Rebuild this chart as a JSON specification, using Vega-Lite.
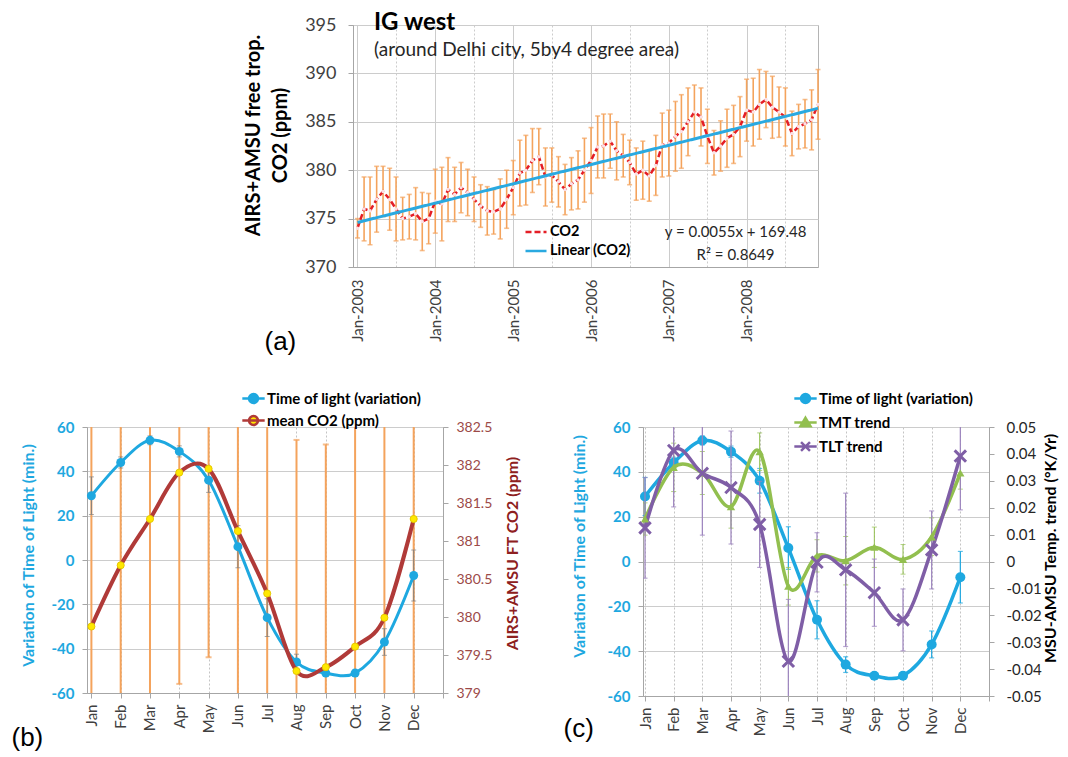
{
  "$schema": "https://vega.github.io/schema/vega-lite/v6.json",
  "background": "white",
  "padding": {"left": 10, "top": 10, "right": 5, "bottom": 2},
  "config": {
    "font": "Lato",
    "view": {"stroke": "#b4b4b4"},
    "axis": {"domainColor": "#a6a6a6", "tickColor": "#a6a6a6", "gridColor": "#cccccc", "labelFont": "Lato", "titleFont": "Lato", "labelColor": "#404040", "titleColor": "#000000"},
    "legend": {"labelFont": "Lato", "labelFontWeight": "bold", "labelColor": "#000000", "padding": 0}
  },
  "spacing": 30,
  "resolve": {"scale": {"color": "independent", "strokeDash": "independent"}, "legend": {"color": "independent", "strokeDash": "independent"}},
  "vconcat": [
    {
      "bounds": "flush",
      "spacing": 246,
      "resolve": {"scale": {"color": "independent", "strokeDash": "independent"}, "legend": {"color": "independent", "strokeDash": "independent"}},
      "hconcat": [
        {"width": 20, "height": 10, "view": {"stroke": null}, "data": {"values": []}, "mark": "point"},
        {
          "width": 465,
          "height": 242,
          "title": {"text": "IG west", "subtitle": "(around Delhi city, 5by4 degree area)", "anchor": "start", "frame": "group", "offset": -44, "dx": 21, "font": "Lato", "fontSize": 24, "fontWeight": "bold", "color": "#000000", "subtitleFont": "Lato", "subtitleFontSize": 19, "subtitleColor": "#262626", "subtitlePadding": 6.5},
          "data": {"values": [
            {"date": "2003/01/01", "co2": 374.0, "err": 1.0}, {"date": "2003/02/01", "co2": 376.0, "err": 3.3}, {"date": "2003/03/01", "co2": 375.8, "err": 3.5}, {"date": "2003/04/01", "co2": 377.0, "err": 3.4}, {"date": "2003/05/01", "co2": 377.8, "err": 2.6}, {"date": "2003/06/01", "co2": 377.0, "err": 3.2}, {"date": "2003/07/01", "co2": 376.0, "err": 3.3}, {"date": "2003/08/01", "co2": 375.0, "err": 2.2}, {"date": "2003/09/01", "co2": 375.2, "err": 2.3}, {"date": "2003/10/01", "co2": 375.5, "err": 2.7}, {"date": "2003/11/01", "co2": 374.7, "err": 3.0}, {"date": "2003/12/01", "co2": 375.0, "err": 2.6},
            {"date": "2004/01/01", "co2": 376.8, "err": 3.3}, {"date": "2004/02/01", "co2": 376.5, "err": 3.8}, {"date": "2004/03/01", "co2": 378.0, "err": 3.3}, {"date": "2004/04/01", "co2": 377.5, "err": 2.8}, {"date": "2004/05/01", "co2": 378.2, "err": 2.6}, {"date": "2004/06/01", "co2": 377.7, "err": 2.4}, {"date": "2004/07/01", "co2": 377.0, "err": 2.3}, {"date": "2004/08/01", "co2": 376.3, "err": 2.2}, {"date": "2004/09/01", "co2": 375.8, "err": 2.5}, {"date": "2004/10/01", "co2": 375.7, "err": 2.3}, {"date": "2004/11/01", "co2": 376.0, "err": 3.1}, {"date": "2004/12/01", "co2": 377.0, "err": 3.0},
            {"date": "2005/01/01", "co2": 378.2, "err": 2.8}, {"date": "2005/02/01", "co2": 379.7, "err": 3.4}, {"date": "2005/03/01", "co2": 380.0, "err": 3.6}, {"date": "2005/04/01", "co2": 381.0, "err": 3.3}, {"date": "2005/05/01", "co2": 381.4, "err": 2.9}, {"date": "2005/06/01", "co2": 379.3, "err": 3.0}, {"date": "2005/07/01", "co2": 379.5, "err": 2.8}, {"date": "2005/08/01", "co2": 378.8, "err": 2.6}, {"date": "2005/09/01", "co2": 378.0, "err": 2.6}, {"date": "2005/10/01", "co2": 378.6, "err": 2.7}, {"date": "2005/11/01", "co2": 379.0, "err": 3.0}, {"date": "2005/12/01", "co2": 380.0, "err": 3.3},
            {"date": "2006/01/01", "co2": 381.0, "err": 3.4}, {"date": "2006/02/01", "co2": 382.4, "err": 3.2}, {"date": "2006/03/01", "co2": 382.5, "err": 3.3}, {"date": "2006/04/01", "co2": 383.0, "err": 2.8}, {"date": "2006/05/01", "co2": 382.0, "err": 3.0}, {"date": "2006/06/01", "co2": 381.5, "err": 2.2}, {"date": "2006/07/01", "co2": 380.8, "err": 2.3}, {"date": "2006/08/01", "co2": 379.6, "err": 2.7}, {"date": "2006/09/01", "co2": 380.0, "err": 3.0}, {"date": "2006/10/01", "co2": 379.4, "err": 2.6}, {"date": "2006/11/01", "co2": 380.5, "err": 3.1}, {"date": "2006/12/01", "co2": 382.6, "err": 3.3},
            {"date": "2007/01/01", "co2": 382.8, "err": 3.4}, {"date": "2007/02/01", "co2": 383.5, "err": 3.6}, {"date": "2007/03/01", "co2": 384.0, "err": 3.8}, {"date": "2007/04/01", "co2": 385.0, "err": 3.5}, {"date": "2007/05/01", "co2": 386.0, "err": 2.8}, {"date": "2007/06/01", "co2": 385.5, "err": 3.0}, {"date": "2007/07/01", "co2": 383.5, "err": 2.8}, {"date": "2007/08/01", "co2": 381.8, "err": 2.3}, {"date": "2007/09/01", "co2": 382.5, "err": 2.6}, {"date": "2007/10/01", "co2": 383.3, "err": 3.0}, {"date": "2007/11/01", "co2": 383.7, "err": 3.0}, {"date": "2007/12/01", "co2": 384.5, "err": 3.1},
            {"date": "2008/01/01", "co2": 386.2, "err": 3.2}, {"date": "2008/02/01", "co2": 386.0, "err": 3.5}, {"date": "2008/03/01", "co2": 386.8, "err": 3.6}, {"date": "2008/04/01", "co2": 387.3, "err": 2.9}, {"date": "2008/05/01", "co2": 386.5, "err": 3.2}, {"date": "2008/06/01", "co2": 386.0, "err": 2.6}, {"date": "2008/07/01", "co2": 385.5, "err": 3.0}, {"date": "2008/08/01", "co2": 383.8, "err": 2.3}, {"date": "2008/09/01", "co2": 384.5, "err": 2.3}, {"date": "2008/10/01", "co2": 384.8, "err": 2.5}, {"date": "2008/11/01", "co2": 385.2, "err": 3.1}, {"date": "2008/12/01", "co2": 386.8, "err": 3.6}
          ], "format": {"parse": {"date": "date"}}},
          "layer": [
            {"mark": {"type": "errorbar", "color": "#f4a35c", "thickness": 1.6, "ticks": {"size": 5}},
             "encoding": {
               "x": {"field": "date", "type": "temporal",
                 "scale": {"domain": [{"year": 2002, "month": 12, "date": 11}, {"year": 2008, "month": 12, "date": 1}], "nice": false},
                 "axis": {
                   "values": [{"year": 2003, "month": 1, "date": 1}, {"year": 2003, "month": 7, "date": 1}, {"year": 2004, "month": 1, "date": 1}, {"year": 2004, "month": 7, "date": 1}, {"year": 2005, "month": 1, "date": 1}, {"year": 2005, "month": 7, "date": 1}, {"year": 2006, "month": 1, "date": 1}, {"year": 2006, "month": 7, "date": 1}, {"year": 2007, "month": 1, "date": 1}, {"year": 2007, "month": 7, "date": 1}, {"year": 2008, "month": 1, "date": 1}, {"year": 2008, "month": 7, "date": 1}],
                   "labelExpr": "month(datum.value) == 0 ? timeFormat(datum.value, '%b-%Y') : ''",
                   "labelAngle": 270, "labelFontSize": 15, "labelPadding": 12, "ticks": false,
                   "grid": true, "gridDash": {"condition": {"test": "month(datum.value) == 0", "value": []}, "value": [2, 2]},
                   "title": "(a)", "titleFont": "Liberation Sans", "titleFontSize": 26, "titleFontWeight": "normal", "titleX": -89, "titleY": 74, "titleAlign": "left", "titleBaseline": "middle"
                 }
               },
               "y": {"field": "co2", "type": "quantitative",
                 "scale": {"domain": [370, 395], "nice": false, "zero": false},
                 "axis": {"values": [370, 375, 380, 385, 390, 395], "labelFontSize": 18, "tickSize": 5, "labelPadding": 12, "grid": true,
                   "title": ["AIRS+AMSU free trop.", "CO2 (ppm)"], "titleFontSize": 20, "titleFontWeight": "bold", "titleLineHeight": 27, "titleAngle": 270, "titleX": -100, "titleY": 110, "titleAlign": "center", "titleBaseline": "middle"}
               },
               "yError": {"field": "err"}
             }},
            {"mark": {"type": "line", "strokeWidth": 2.5},
             "encoding": {
               "x": {"field": "date", "type": "temporal"},
               "y": {"field": "co2", "type": "quantitative"},
               "color": {"datum": "CO2", "scale": {"domain": ["CO2", "Linear (CO2)"], "range": ["#e41e26", "#2aa9e0"]},
                 "legend": {"orient": "none", "legendX": 171, "legendY": 195, "title": null, "labelFontSize": 14.5, "symbolType": "stroke", "symbolSize": 441, "symbolStrokeWidth": 2.5, "rowPadding": 0, "labelOffset": 2}},
               "strokeDash": {"datum": "CO2", "scale": {"domain": ["CO2", "Linear (CO2)"], "range": [[6, 3], [1, 0]]}, "legend": null}
             }},
            {"mark": {"type": "point", "filled": true, "size": 12, "color": "#fbe0e4", "opacity": 1},
             "encoding": {"x": {"field": "date", "type": "temporal"}, "y": {"field": "co2", "type": "quantitative"}}},
            {"transform": [{"regression": "co2", "on": "date"}],
             "mark": {"type": "line", "strokeWidth": 3},
             "encoding": {"x": {"field": "date", "type": "temporal"}, "y": {"field": "co2", "type": "quantitative"}, "color": {"datum": "Linear (CO2)"}, "strokeDash": {"datum": "Linear (CO2)"}}},
            {"data": {"values": [{"t": "y = 0.0055x + 169.48"}]},
             "mark": {"type": "text", "fontSize": 15, "align": "center", "baseline": "middle", "color": "#262626"},
             "encoding": {"text": {"field": "t", "type": "nominal"}, "x": {"datum": {"year": 2007, "month": 11, "date": 10}, "type": "temporal"}, "y": {"datum": 373.6, "type": "quantitative"}}},
            {"data": {"values": [{"t": "R² = 0.8649"}]},
             "mark": {"type": "text", "fontSize": 15, "align": "center", "baseline": "middle", "color": "#262626"},
             "encoding": {"text": {"field": "t", "type": "nominal"}, "x": {"datum": {"year": 2007, "month": 11, "date": 10}, "type": "temporal"}, "y": {"datum": 371.2, "type": "quantitative"}}}
          ]
        }
      ]
    },
    {
      "bounds": "flush",
      "spacing": 200,
      "resolve": {"scale": {"color": "independent"}, "legend": {"color": "independent"}},
      "hconcat": [
        {
          "width": 356,
          "height": 266,
          "data": {"values": [
            {"m": 1, "light": 29, "lerr": 8.5, "co2": 379.875, "cerr": 3},
            {"m": 2, "light": 44, "lerr": 2.5, "co2": 380.68, "cerr": 3},
            {"m": 3, "light": 54, "lerr": 2, "co2": 381.29, "cerr": 3},
            {"m": 4, "light": 49, "lerr": 2.5, "co2": 381.9, "cerr": 2.78},
            {"m": 5, "light": 36, "lerr": 5.5, "co2": 381.95, "cerr": 2.48},
            {"m": 6, "light": 6, "lerr": 9.5, "co2": 381.13, "cerr": 3},
            {"m": 7, "light": -26, "lerr": 8.5, "co2": 380.31, "cerr": 3},
            {"m": 8, "light": -46, "lerr": 3.5, "co2": 379.29, "cerr": 3.04},
            {"m": 9, "light": -51, "lerr": 1.5, "co2": 379.34, "cerr": 2.93},
            {"m": 10, "light": -51, "lerr": 1.5, "co2": 379.61, "cerr": 3},
            {"m": 11, "light": -37, "lerr": 6, "co2": 379.99, "cerr": 3},
            {"m": 12, "light": -7, "lerr": 11.5, "co2": 381.29, "cerr": 3}
          ]},
          "encoding": {
            "x": {"field": "m", "type": "quantitative", "scale": {"domain": [0.85, 13], "nice": false, "zero": false},
              "axis": {"values": [1, 2, 3, 4, 5, 6, 7, 8, 9, 10, 11, 12, 13],
                "labelExpr": "datum.value >= 1 && datum.value <= 12 ? ['Jan','Feb','Mar','Apr','May','Jun','Jul','Aug','Sep','Oct','Nov','Dec'][datum.value - 1] : ''",
                "labelAngle": 270, "labelFontSize": 15, "labelPadding": 6, "tickSize": 5, "grid": true, "gridDash": [2, 2], "gridColor": "#c4c4c4",
                "title": "(b)", "titleFont": "Liberation Sans", "titleFontSize": 26, "titleFontWeight": "normal", "titleX": -76, "titleY": 44, "titleAlign": "left", "titleBaseline": "middle"}}
          },
          "layer": [
            {"mark": {"type": "errorbar", "color": "#f4a35c", "thickness": 2, "ticks": {"size": 6}, "clip": true},
             "encoding": {
               "y": {"field": "co2", "type": "quantitative", "scale": {"domain": [379, 382.5], "nice": false, "zero": false},
                 "axis": {"orient": "right", "values": [379, 379.5, 380, 380.5, 381, 381.5, 382, 382.5], "labelExpr": "datum.value + ''", "labelFontSize": 14, "labelColor": "#9c4a48", "labelOverlap": false, "tickSize": 5, "labelPadding": 8, "grid": false,
                   "title": "AIRS+AMSU FT CO2 (ppm)", "titleFontSize": 16, "titleFontWeight": "bold", "titleColor": "#8e2020", "titleAngle": 270, "titleX": 69, "titleY": 126, "titleAlign": "center", "titleBaseline": "middle"}},
               "yError": {"field": "cerr"}
             }},
            {"layer": [
              {"mark": {"type": "errorbar", "color": "#808080", "thickness": 1, "ticks": {"size": 5}},
               "encoding": {
                 "y": {"field": "light", "type": "quantitative", "scale": {"domain": [-60, 60], "nice": false},
                   "axis": {"orient": "left", "values": [-60, -40, -20, 0, 20, 40, 60], "labelExpr": "datum.value + ''", "labelFontSize": 15, "labelFontWeight": "bold", "labelColor": "#1ea8e0", "labelOverlap": false, "tickSize": 5, "labelPadding": 8, "grid": true,
                     "title": "Variation of  Time of Light (min.)", "titleFontSize": 16, "titleFontWeight": "bold", "titleColor": "#1ea8e0", "titleAngle": 270, "titleX": -59, "titleY": 128, "titleAlign": "center", "titleBaseline": "middle"}},
                 "yError": {"field": "lerr"}
               }},
              {"mark": {"type": "line", "interpolate": "cardinal", "strokeWidth": 3},
               "encoding": {
                 "y": {"field": "light", "type": "quantitative", "title": "Variation of  Time of Light (min.)"},
                 "color": {"datum": "Time of light (variation)", "scale": {"domain": ["Time of light (variation)", "mean CO2 (ppm)"], "range": ["#1ea8e0", "#b03a38"]},
                   "legend": {"orient": "none", "legendX": 154, "legendY": -41, "title": null, "labelFontSize": 15, "symbolType": "M-1,0H1M0.4,0A0.4,0.4 0 1,1 -0.4,0A0.4,0.4 0 1,1 0.4,0", "symbolSize": 500, "symbolStrokeWidth": 2.5, "rowPadding": 0, "labelOffset": 1,
                     "encode": {"symbols": {"update": {"fill": {"signal": "datum.value === 'mean CO2 (ppm)' ? '#ffe800' : '#1ea8e0'"}, "fillOpacity": {"value": 1}, "opacity": {"value": 1}}}}}}
               }},
              {"mark": {"type": "point", "filled": true, "size": 80, "color": "#1ea8e0", "opacity": 1},
               "encoding": {"y": {"field": "light", "type": "quantitative", "title": "Variation of  Time of Light (min.)"}}}
            ]},
            {"layer": [
              {"mark": {"type": "line", "interpolate": "cardinal", "strokeWidth": 4},
               "encoding": {
                 "y": {"field": "co2", "type": "quantitative", "scale": {"domain": [379, 382.5], "nice": false, "zero": false}, "axis": null},
                 "color": {"datum": "mean CO2 (ppm)"}
               }},
              {"mark": {"type": "point", "filled": true, "size": 50, "color": "#ffe800", "stroke": "#e6c800", "strokeWidth": 1, "opacity": 1},
               "encoding": {"y": {"field": "co2", "type": "quantitative", "axis": null}}}
            ]}
          ],
          "resolve": {"scale": {"y": "independent"}}
        },
        {
          "width": 346,
          "height": 269,
          "data": {"values": [
            {"m": 1, "light": 29, "lerr": 8.5, "tmt": 0.0158, "tmterr": 0.006, "tlt": 0.0125, "tlterr": 0.0187},
            {"m": 2, "light": 44, "lerr": 2.5, "tmt": 0.035, "tmterr": 0.009, "tlt": 0.0413, "tlterr": 0.021},
            {"m": 3, "light": 54, "lerr": 2, "tmt": 0.0329, "tmterr": 0.008, "tlt": 0.0328, "tlterr": 0.023},
            {"m": 4, "light": 49, "lerr": 2.5, "tmt": 0.0204, "tmterr": 0.008, "tlt": 0.0275, "tlterr": 0.021},
            {"m": 5, "light": 36, "lerr": 5.5, "tmt": 0.0408, "tmterr": 0.007, "tlt": 0.0138, "tlterr": 0.016},
            {"m": 6, "light": 6, "lerr": 9.5, "tmt": -0.0092, "tmterr": 0.007, "tlt": -0.0371, "tlterr": 0.023},
            {"m": 7, "light": -26, "lerr": 8.5, "tmt": 0.0021, "tmterr": 0.006, "tlt": -0.0003, "tlterr": 0.011},
            {"m": 8, "light": -46, "lerr": 3.5, "tmt": 0.0003, "tmterr": 0.009, "tlt": -0.0031, "tlterr": 0.0285},
            {"m": 9, "light": -51, "lerr": 1.5, "tmt": 0.0053, "tmterr": 0.0075, "tlt": -0.0116, "tlterr": 0.0125},
            {"m": 10, "light": -51, "lerr": 1.5, "tmt": 0.0008, "tmterr": 0.0055, "tlt": -0.0217, "tlterr": 0.0115},
            {"m": 11, "light": -37, "lerr": 6, "tmt": 0.0092, "tmterr": 0.007, "tlt": 0.0043, "tlterr": 0.0145},
            {"m": 12, "light": -7, "lerr": 11.5, "tmt": 0.0329, "tmterr": 0.006, "tlt": 0.0392, "tlterr": 0.02}
          ]},
          "encoding": {
            "x": {"field": "m", "type": "quantitative", "scale": {"domain": [0.93, 13], "nice": false, "zero": false},
              "axis": {"values": [1, 2, 3, 4, 5, 6, 7, 8, 9, 10, 11, 12, 13],
                "labelExpr": "datum.value >= 1 && datum.value <= 12 ? ['Jan','Feb','Mar','Apr','May','Jun','Jul','Aug','Sep','Oct','Nov','Dec'][datum.value - 1] : ''",
                "labelAngle": 270, "labelFontSize": 15, "labelPadding": 6, "tickSize": 5, "grid": true, "gridDash": [2, 2], "gridColor": "#c4c4c4",
                "title": "(c)", "titleFont": "Liberation Sans", "titleFontSize": 26, "titleFontWeight": "normal", "titleX": -80, "titleY": 32, "titleAlign": "left", "titleBaseline": "middle"}}
          },
          "layer": [
            {"layer": [
              {"mark": {"type": "errorbar", "color": "#1ea8e0", "thickness": 1.2, "ticks": {"size": 5}},
               "encoding": {
                 "y": {"field": "light", "type": "quantitative", "scale": {"domain": [-60, 60], "nice": false},
                   "axis": {"orient": "left", "values": [-60, -40, -20, 0, 20, 40, 60], "labelExpr": "datum.value + ''", "labelFontSize": 15, "labelFontWeight": "bold", "labelColor": "#1ea8e0", "labelOverlap": false, "tickSize": 5, "labelPadding": 8, "grid": true,
                     "title": "Variation of  Time of Light (min.)", "titleFontSize": 16, "titleFontWeight": "bold", "titleColor": "#1ea8e0", "titleAngle": 270, "titleX": -64, "titleY": 119, "titleAlign": "center", "titleBaseline": "middle"}},
                 "yError": {"field": "lerr"}
               }},
              {"mark": {"type": "line", "interpolate": "cardinal", "strokeWidth": 3.5},
               "encoding": {
                 "y": {"field": "light", "type": "quantitative", "title": "Variation of  Time of Light (min.)"},
                 "color": {"datum": "Time of light (variation)", "scale": {"domain": ["Time of light (variation)", "TMT trend", "TLT trend"], "range": ["#1ea8e0", "#92bf4f", "#7f5ea6"]},
                   "legend": {"orient": "none", "legendX": 150, "legendY": -41, "title": null, "labelFontSize": 15, "symbolType": "M-1,0H1M0.4,0A0.4,0.4 0 1,1 -0.4,0A0.4,0.4 0 1,1 0.4,0", "symbolSize": 500, "symbolStrokeWidth": 2.5, "rowPadding": 2, "labelOffset": 1,
                     "encode": {"symbols": {"update": {
                       "shape": {"signal": "datum.value === 'TMT trend' ? 'M-1,0H1M0,-0.42L0.45,0.34L-0.45,0.34Z' : datum.value === 'TLT trend' ? 'M-1,0H1M-0.4,-0.4L0.4,0.4M-0.4,0.4L0.4,-0.4' : 'M-1,0H1M0.4,0A0.4,0.4 0 1,1 -0.4,0A0.4,0.4 0 1,1 0.4,0'"},
                       "fill": {"signal": "datum.value === 'TMT trend' ? '#92bf4f' : datum.value === 'TLT trend' ? '#7f5ea6' : '#1ea8e0'"}, "fillOpacity": {"value": 1}, "opacity": {"value": 1}}}}}}
               }},
              {"mark": {"type": "point", "filled": true, "size": 100, "color": "#1ea8e0", "opacity": 1},
               "encoding": {"y": {"field": "light", "type": "quantitative", "title": "Variation of  Time of Light (min.)"}}}
            ]},
            {"layer": [
              {"mark": {"type": "errorbar", "color": "#92bf4f", "thickness": 1, "ticks": {"size": 5}, "clip": true},
               "encoding": {
                 "y": {"field": "tmt", "type": "quantitative", "scale": {"domain": [-0.05, 0.05], "nice": false},
                   "axis": {"orient": "right", "values": [-0.05, -0.04, -0.03, -0.02, -0.01, 0, 0.01, 0.02, 0.03, 0.04, 0.05], "labelExpr": "datum.value + ''", "labelFontSize": 15, "labelColor": "#262626", "labelOverlap": false, "tickSize": 5, "labelPadding": 12, "grid": false,
                     "title": "MSU-AMSU Temp. trend (°K/Yr)", "titleFontSize": 16, "titleFontWeight": "bold", "titleColor": "#000000", "titleAngle": 270, "titleX": 61, "titleY": 121, "titleAlign": "center", "titleBaseline": "middle"}},
                 "yError": {"field": "tmterr"}
               }},
              {"mark": {"type": "errorbar", "color": "#9b82bd", "thickness": 1.2, "ticks": {"size": 5}, "clip": true},
               "encoding": {"y": {"field": "tlt", "type": "quantitative",
                   "axis": {"orient": "right", "values": [-0.05, -0.04, -0.03, -0.02, -0.01, 0, 0.01, 0.02, 0.03, 0.04, 0.05], "labelExpr": "datum.value + ''", "labelFontSize": 15, "labelColor": "#262626", "labelOverlap": false, "tickSize": 5, "labelPadding": 12, "grid": false,
                     "title": "MSU-AMSU Temp. trend (°K/Yr)", "titleFontSize": 16, "titleFontWeight": "bold", "titleColor": "#000000", "titleAngle": 270, "titleX": 61, "titleY": 121, "titleAlign": "center", "titleBaseline": "middle"}},
                 "yError": {"field": "tlterr"}}},
              {"mark": {"type": "line", "interpolate": "cardinal", "strokeWidth": 3.5},
               "encoding": {"y": {"field": "tmt", "type": "quantitative",
                   "axis": {"orient": "right", "values": [-0.05, -0.04, -0.03, -0.02, -0.01, 0, 0.01, 0.02, 0.03, 0.04, 0.05], "labelExpr": "datum.value + ''", "labelFontSize": 15, "labelColor": "#262626", "labelOverlap": false, "tickSize": 5, "labelPadding": 12, "grid": false,
                     "title": "MSU-AMSU Temp. trend (°K/Yr)", "titleFontSize": 16, "titleFontWeight": "bold", "titleColor": "#000000", "titleAngle": 270, "titleX": 61, "titleY": 121, "titleAlign": "center", "titleBaseline": "middle"}},
                 "color": {"datum": "TMT trend"}}},
              {"mark": {"type": "line", "interpolate": "cardinal", "strokeWidth": 3.5},
               "encoding": {"y": {"field": "tlt", "type": "quantitative",
                   "axis": {"orient": "right", "values": [-0.05, -0.04, -0.03, -0.02, -0.01, 0, 0.01, 0.02, 0.03, 0.04, 0.05], "labelExpr": "datum.value + ''", "labelFontSize": 15, "labelColor": "#262626", "labelOverlap": false, "tickSize": 5, "labelPadding": 12, "grid": false,
                     "title": "MSU-AMSU Temp. trend (°K/Yr)", "titleFontSize": 16, "titleFontWeight": "bold", "titleColor": "#000000", "titleAngle": 270, "titleX": 61, "titleY": 121, "titleAlign": "center", "titleBaseline": "middle"}},
                 "color": {"datum": "TLT trend"}}},
              {"mark": {"type": "point", "shape": "triangle-up", "filled": true, "size": 70, "color": "#92bf4f", "opacity": 1},
               "encoding": {"y": {"field": "tmt", "type": "quantitative",
                   "axis": {"orient": "right", "values": [-0.05, -0.04, -0.03, -0.02, -0.01, 0, 0.01, 0.02, 0.03, 0.04, 0.05], "labelExpr": "datum.value + ''", "labelFontSize": 15, "labelColor": "#262626", "labelOverlap": false, "tickSize": 5, "labelPadding": 12, "grid": false,
                     "title": "MSU-AMSU Temp. trend (°K/Yr)", "titleFontSize": 16, "titleFontWeight": "bold", "titleColor": "#000000", "titleAngle": 270, "titleX": 61, "titleY": 121, "titleAlign": "center", "titleBaseline": "middle"}}}},
              {"mark": {"type": "point", "shape": "M-1,-1L1,1M-1,1L1,-1", "filled": false, "size": 130, "strokeWidth": 3, "color": "#7f5ea6", "opacity": 1},
               "encoding": {"y": {"field": "tlt", "type": "quantitative",
                   "axis": {"orient": "right", "values": [-0.05, -0.04, -0.03, -0.02, -0.01, 0, 0.01, 0.02, 0.03, 0.04, 0.05], "labelExpr": "datum.value + ''", "labelFontSize": 15, "labelColor": "#262626", "labelOverlap": false, "tickSize": 5, "labelPadding": 12, "grid": false,
                     "title": "MSU-AMSU Temp. trend (°K/Yr)", "titleFontSize": 16, "titleFontWeight": "bold", "titleColor": "#000000", "titleAngle": 270, "titleX": 61, "titleY": 121, "titleAlign": "center", "titleBaseline": "middle"}}}}
            ]}
          ],
          "resolve": {"scale": {"y": "independent"}}
        }
      ]
    }
  ]
}
